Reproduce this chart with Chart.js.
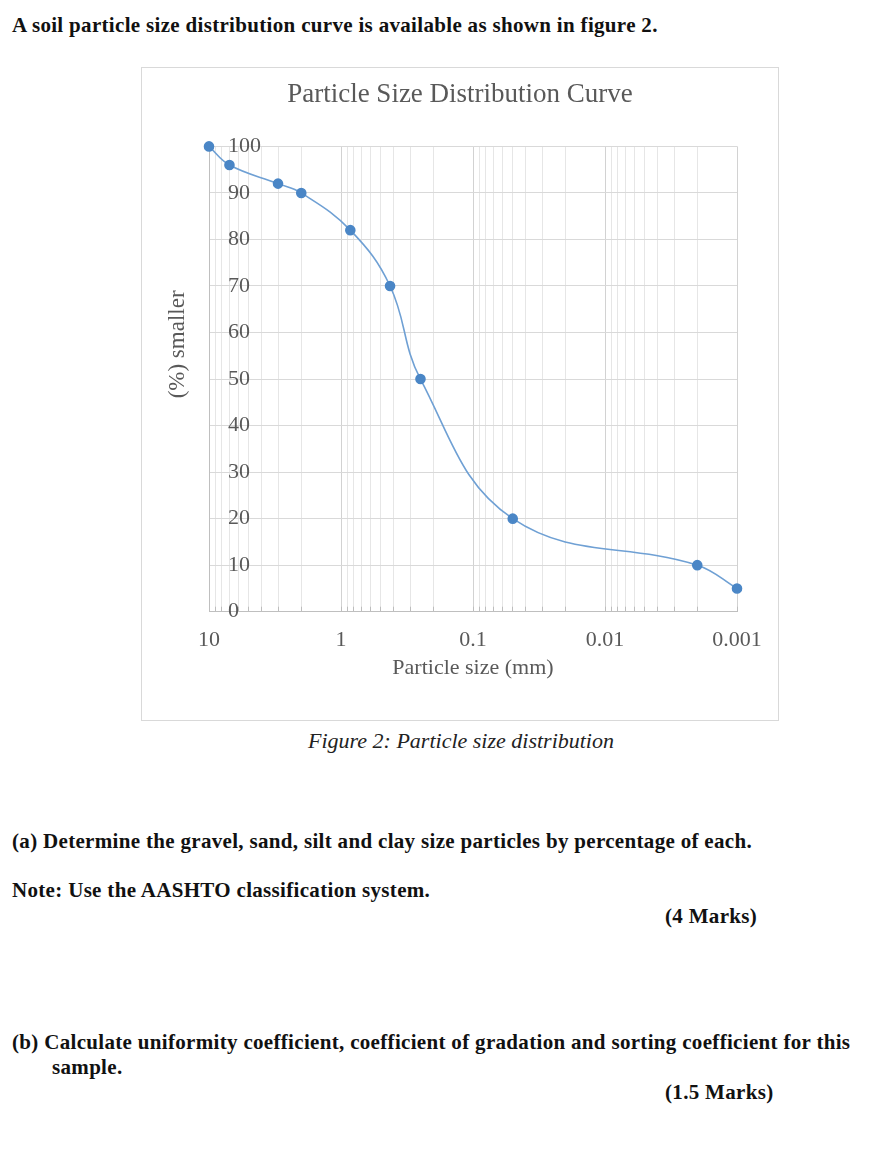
<!DOCTYPE html>
<html>
<head>
<meta charset="utf-8">
<script src="https://cdn.jsdelivr.net/npm/chart.js@4.4.0/dist/chart.umd.min.js"></script>
<style>
  body { margin: 0; background: #fff; width: 870px; height: 1169px; position: relative; font-family: "Liberation Serif", serif; }
  .t { position: absolute; font-weight: bold; font-size: 21px; letter-spacing: 0.32px; line-height: 24px; color: #111; white-space: nowrap; }
  #box { position: absolute; left: 141px; top: 67px; width: 638px; height: 654px; box-sizing: border-box; border: 1px solid #d9d9d9; }
  #caption { position: absolute; left: 0; width: 922px; top: 729px; text-align: center; font-style: italic; font-size: 22px; line-height: 24px; color: #222; }
</style>
</head>
<body>
<div class="t" style="left:12px; top:13px;">A soil particle size distribution curve is available as shown in figure 2.</div>
<div id="box"><canvas id="psd"></canvas></div>
<div id="caption">Figure 2: Particle size distribution</div>
<div class="t" style="left:12px; top:829px;">(a) Determine the gravel, sand, silt and clay size particles by percentage of each.</div>
<div class="t" style="left:12px; top:878px;">Note: Use the AASHTO classification system.</div>
<div class="t" style="left:665px; top:904px;">(4 Marks)</div>
<div class="t" style="left:12px; top:1030px;">(b) Calculate uniformity coefficient, coefficient of gradation and sorting coefficient for this</div>
<div class="t" style="left:52px; top:1055px;">sample.</div>
<div class="t" style="left:665px; top:1080px;">(1.5 Marks)</div>

<script>
// DATA
const particleSize = [10, 7, 3, 2, 0.85, 0.425, 0.25, 0.05, 0.002, 0.001];
const percentSmaller = [100, 96, 92, 90, 82, 70, 50, 20, 10, 5];
const xDecades = [0.001, 0.01, 0.1, 1, 10];
const xTickLabels = ['0.001', '0.01', '0.1', '1', '10'];

const greyText = '#595959';
const serif = '"Liberation Serif", "Times New Roman", serif';

function isDecade(v) {
    return xDecades.some(d => Math.abs(d - v) < d * 1e-6);
}

// y axis title sits a bit above the middle, like the excel original
const yTitlePlugin = {
    id: 'yTitle',
    afterDraw(chart) {
        let ctx = chart.ctx;
        let area = chart.chartArea;
        ctx.save();
        ctx.translate(area.left - 31, area.top + 198);
        ctx.rotate(-Math.PI / 2);
        ctx.fillStyle = greyText;
        ctx.font = '23px ' + serif;
        ctx.textAlign = 'center';
        ctx.textBaseline = 'middle';
        ctx.fillText('(%) smaller', 0, 0);
        ctx.restore();
    }
};

let psdCtx = document.querySelector('#psd').getContext('2d');

let psdChart = new Chart(psdCtx, {
    type: 'line',
    data: {
        datasets: [{
            data: particleSize.map((s, i) => ({x: s, y: percentSmaller[i]})),
            borderColor: '#6fa0d4',
            borderWidth: 1.6,
            backgroundColor: '#4a86c6',
            pointBackgroundColor: '#4a86c6',
            pointBorderColor: '#4a86c6',
            pointRadius: 4.5,
            tension: 0.4,
            clip: false
        }]
    },
    options: {
        responsive: true,
        maintainAspectRatio: false,
        animation: false,
        layout: {
            padding: {left: 41, right: 41, top: 0, bottom: 39}
        },
        plugins: {
            legend: {display: false},
            tooltip: {enabled: false},
            title: {
                display: true,
                text: 'Particle Size Distribution Curve',
                color: greyText,
                font: {family: serif, size: 27, weight: 'normal'},
                padding: {top: 11, bottom: 35}
            }
        },
        scales: {
            x: {
                type: 'logarithmic',
                reverse: true,
                min: 0.001,
                max: 10,
                afterBuildTicks: (scale) => {
                    let ticks = [];
                    xDecades.forEach((d, i) => {
                        if (i === xDecades.length - 1) {
                            ticks.push({value: d});
                            return;
                        }
                        for (let k = 1; k < 10; k++) {
                            ticks.push({value: Math.round(d * k * 1e6) / 1e6});
                        }
                    });
                    scale.ticks = ticks;
                },
                ticks: {
                    autoSkip: false,
                    maxRotation: 0,
                    color: greyText,
                    font: {family: serif, size: 22},
                    padding: 20,
                    callback: (v) => {
                        let idx = xDecades.findIndex(d => Math.abs(d - v) < d * 1e-6);
                        return idx >= 0 ? xTickLabels[idx] : '';
                    }
                },
                grid: {
                    color: (c) => (c.tick && isDecade(c.tick.value)) ? '#d2d2d2' : '#e6e6e6',
                    lineWidth: 1,
                    drawTicks: true,
                    tickLength: -5,
                    tickColor: '#bdbdbd'
                },
                border: {color: '#bfbfbf', width: 1},
                title: {
                    display: true,
                    text: 'Particle size (mm)',
                    color: greyText,
                    font: {family: serif, size: 22},
                    padding: {top: -18.5, bottom: 0}
                }
            },
            y: {
                min: 0,
                max: 100,
                afterFit: (scale) => { scale.width = 26; },
                ticks: {
                    stepSize: 10,
                    mirror: true,
                    padding: 19,
                    color: greyText,
                    font: {family: serif, size: 22}
                },
                grid: {
                    color: '#d9d9d9',
                    drawTicks: false
                },
                border: {color: '#bfbfbf', width: 1}
            }
        }
    },
    plugins: [yTitlePlugin]
});
</script>
</body>
</html>
